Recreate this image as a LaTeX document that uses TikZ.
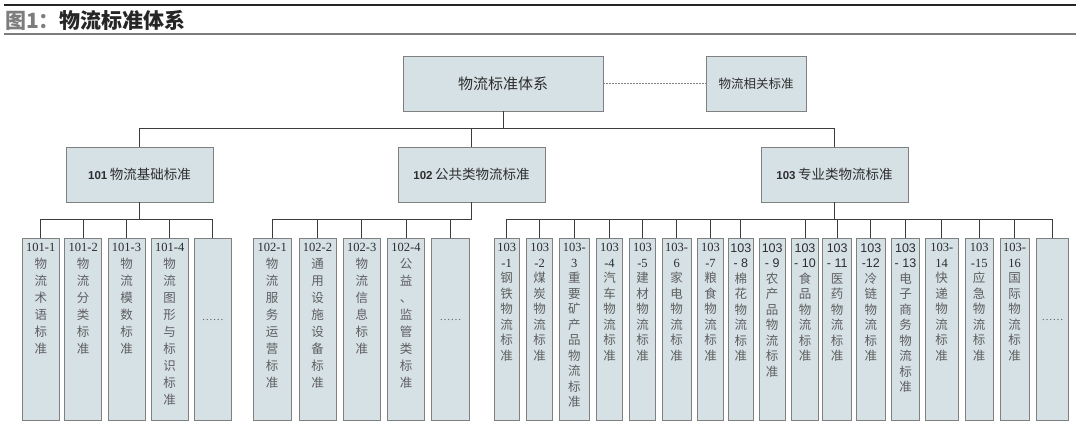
\documentclass[tikz,border=0pt]{standalone}
\usepackage{fontspec}
\setmainfont{Liberation Serif}
\setsansfont{Liberation Sans}
\newfontfamily\cjk{Noto Sans CJK SC}
\definecolor{boxfill}{RGB}{214,225,230}
\definecolor{boxline}{RGB}{128,128,128}
\definecolor{linkcol}{RGB}{60,60,60}
\definecolor{leaftext}{RGB}{95,95,95}
\definecolor{codetext}{RGB}{45,45,45}
\definecolor{titlegray}{RGB}{125,125,125}
\definecolor{titledark}{RGB}{38,38,38}

% vertical text of a leaf box: width, line skip, code, characters
\newcommand{\vtxt}[4]{\parbox[t][172pt][t]{#1pt}{\centering\fontsize{12.5}{#2}\selectfont{\color{codetext}#3}\\\cjk #4}}
% leaf box that only holds dots
\newcommand{\etcbox}[1]{\parbox[t][172pt][c]{#1pt}{\centering\fontsize{11}{13}\selectfont\raisebox{19pt}{……}}}

\begin{document}
\begin{tikzpicture}[x=1pt,y=-1pt,
    box/.style={draw=boxline,fill=boxfill,line width=0.8pt,text=codetext},
    top/.style={box,minimum height=55,inner sep=0pt},
    leaf/.style={box,anchor=north,inner xsep=0pt,inner ysep=5pt,text=leaftext},
    link/.style={draw=linkcol,line width=0.9pt}]
    % frame
    \useasboundingbox (0,0) rectangle (1080,429);
    % title with its rules
    \draw[titledark,line width=2pt] (4,5) -- (1076,5);
    \draw[titlegray,line width=1.2pt] (4,34) -- (1076,34);
    \node[anchor=west,inner sep=0pt] (title) at (5,20) {\cjk\bfseries\fontsize{21}{24}\selectfont{\color{titlegray}图1：}\color{titledark}物流标准体系};
    % root and related standards
    \node[top,minimum width=200] (root) at (503,83.5) {\cjk\fontsize{15}{18}\selectfont 物流标准体系};
    \node[top,minimum width=100] (rel) at (756,83.5) {\cjk\fontsize{12.5}{15}\selectfont 物流相关标准};
    \draw[boxline,line width=0.6pt,dash pattern=on 2pt off 1pt] (root.east) -- (rel.west);
    % second level
    \node[top,minimum width=147] (n101) at (139.5,174.5) {{\sffamily\bfseries\fontsize{11.5}{13}\selectfont 101}\ {\cjk\fontsize{13.5}{16}\selectfont 物流基础标准}};
    \node[top,minimum width=147] (n102) at (471.5,174.5) {{\sffamily\bfseries\fontsize{11.5}{13}\selectfont 102}\ {\cjk\fontsize{13.5}{16}\selectfont 公共类物流标准}};
    \node[top,minimum width=147] (n103) at (834.5,174.5) {{\sffamily\bfseries\fontsize{11.5}{13}\selectfont 103}\ {\cjk\fontsize{13.5}{16}\selectfont 专业类物流标准}};
    \draw[link] (root.south) -- ++(0,17) -| (n101.north);
    \draw[link] (root.south) -- ++(0,17) -| (n102.north);
    \draw[link] (root.south) -- ++(0,17) -| (n103.north);
    % 101 leaves
    \node[leaf] (s101a) at (40.8,238) {\vtxt{37}{17}{101-1}{物\\流\\术\\语\\标\\准}};
    \node[leaf] (s101b) at (83.2,238) {\vtxt{37}{17}{101-2}{物\\流\\分\\类\\标\\准}};
    \node[leaf] (s101c) at (126.5,238) {\vtxt{37}{17}{101-3}{物\\流\\模\\数\\标\\准}};
    \node[leaf] (s101d) at (169.7,238) {\vtxt{36.7}{17}{101-4}{物\\流\\图\\形\\与\\标\\识\\标\\准}};
    \node[leaf] (s101e) at (212.8,238) {\etcbox{36.3}};
    \draw[link] (n101.south) -- ++(0,17) -| (s101a.north);
    \draw[link] (n101.south) -- ++(0,17) -| (s101b.north);
    \draw[link] (n101.south) -- ++(0,17) -| (s101c.north);
    \draw[link] (n101.south) -- ++(0,17) -| (s101d.north);
    \draw[link] (n101.south) -- ++(0,17) -| (s101e.north);
    % 102 leaves
    \node[leaf] (s102a) at (272.2,238) {\vtxt{37.7}{17}{102-1}{物\\流\\服\\务\\运\\营\\标\\准}};
    \node[leaf] (s102b) at (317.5,238) {\vtxt{37}{17}{102-2}{通\\用\\设\\施\\设\\备\\标\\准}};
    \node[leaf] (s102c) at (361.8,238) {\vtxt{36.3}{17}{102-3}{物\\流\\信\\息\\标\\准}};
    \node[leaf] (s102d) at (406,238) {\vtxt{36.6}{17}{102-4}{公\\益\\、\\监\\管\\类\\标\\准}};
    \node[leaf] (s102e) at (450.5,238) {\etcbox{37.6}};
    \draw[link] (n102.south) -- ++(0,17) -| (s102a.north);
    \draw[link] (n102.south) -- ++(0,17) -| (s102b.north);
    \draw[link] (n102.south) -- ++(0,17) -| (s102c.north);
    \draw[link] (n102.south) -- ++(0,17) -| (s102d.north);
    \draw[link] (n102.south) -- ++(0,17) -| (s102e.north);
    % 103 leaves
    \node[leaf] (s103a) at (506.7,238) {\vtxt{25.3}{15.5}{103\\-1}{钢\\铁\\物\\流\\标\\准}};
    \node[leaf] (s103b) at (539.7,238) {\vtxt{26}{15.5}{103\\-2}{煤\\炭\\物\\流\\标\\准}};
    \node[leaf] (s103c) at (574.3,238) {\vtxt{30}{15.5}{103-\\3}{重\\要\\矿\\产\\品\\物\\流\\标\\准}};
    \node[leaf] (s103d) at (609.5,238) {\vtxt{25.6}{15.5}{103\\-4}{汽\\车\\物\\流\\标\\准}};
    \node[leaf] (s103e) at (642.5,238) {\vtxt{26.4}{15.5}{103\\-5}{建\\材\\物\\流\\标\\准}};
    \node[leaf] (s103f) at (676.7,238) {\vtxt{28.7}{15.5}{103-\\6}{家\\电\\物\\流\\标\\准}};
    \node[leaf] (s103g) at (710.5,238) {\vtxt{25.6}{15.5}{103\\-7}{粮\\食\\物\\流\\标\\准}};
    \node[leaf] (s103h) at (740.8,238) {\vtxt{25}{15.5}{\sffamily 103\\- 8}{棉\\花\\物\\流\\标\\准}};
    \node[leaf] (s103i) at (772.2,238) {\vtxt{25.7}{15.5}{\sffamily 103\\- 9}{农\\产\\品\\物\\流\\标\\准}};
    \node[leaf] (s103j) at (805,238) {\vtxt{26.6}{15.5}{\sffamily 103\\- 10}{食\\品\\物\\流\\标\\准}};
    \node[leaf] (s103k) at (837.2,238) {\vtxt{29}{15.5}{\sffamily 103\\- 11}{医\\药\\物\\流\\标\\准}};
    \node[leaf] (s103l) at (870.8,238) {\vtxt{28.3}{15.5}{\sffamily 103\\-12}{冷\\链\\物\\流\\标\\准}};
    \node[leaf] (s103m) at (905.5,238) {\vtxt{27.6}{15.5}{\sffamily 103\\- 13}{电\\子\\商\\务\\物\\流\\标\\准}};
    \node[leaf] (s103n) at (941.7,238) {\vtxt{33.3}{15.5}{103-\\14}{快\\递\\物\\流\\标\\准}};
    \node[leaf] (s103o) at (979.2,238) {\vtxt{28.3}{15.5}{103\\-15}{应\\急\\物\\流\\标\\准}};
    \node[leaf] (s103p) at (1014.5,238) {\vtxt{29}{15.5}{103-\\16}{国\\际\\物\\流\\标\\准}};
    \node[leaf] (s103q) at (1052.5,238) {\etcbox{31.6}};
    \draw[link] (n103.south) -- ++(0,17) -| (s103a.north);
    \draw[link] (n103.south) -- ++(0,17) -| (s103b.north);
    \draw[link] (n103.south) -- ++(0,17) -| (s103c.north);
    \draw[link] (n103.south) -- ++(0,17) -| (s103d.north);
    \draw[link] (n103.south) -- ++(0,17) -| (s103e.north);
    \draw[link] (n103.south) -- ++(0,17) -| (s103f.north);
    \draw[link] (n103.south) -- ++(0,17) -| (s103g.north);
    \draw[link] (n103.south) -- ++(0,17) -| (s103h.north);
    % no drop line to 103-9 in the original
    \draw[link] (n103.south) -- ++(0,17) -| (s103j.north);
    \draw[link] (n103.south) -- ++(0,17) -| (s103k.north);
    \draw[link] (n103.south) -- ++(0,17) -| (s103l.north);
    \draw[link] (n103.south) -- ++(0,17) -| (s103m.north);
    \draw[link] (n103.south) -- ++(0,17) -| (s103n.north);
    \draw[link] (n103.south) -- ++(0,17) -| (s103o.north);
    \draw[link] (n103.south) -- ++(0,17) -| (s103p.north);
    \draw[link] (n103.south) -- ++(0,17) -| (s103q.north);
\end{tikzpicture}
\end{document}
